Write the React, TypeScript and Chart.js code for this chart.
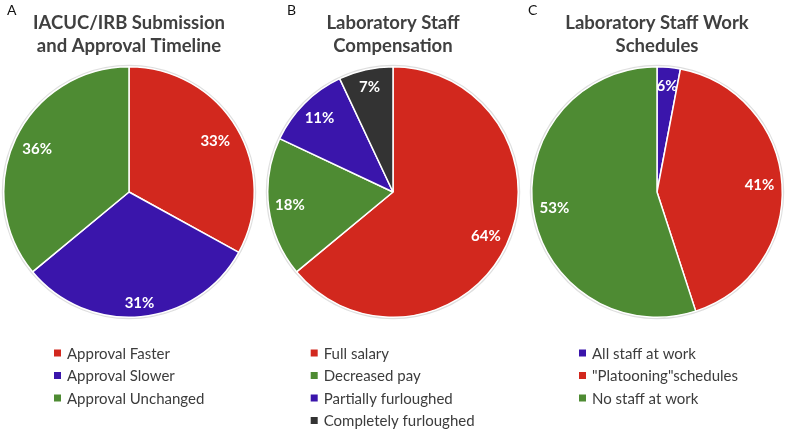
import React, { useEffect, useRef } from 'react';
import { Chart, registerables } from 'chart.js';
Chart.register(...registerables);

const RED = '#D2281E';
const PURPLE = '#3A15AB';
const GREEN = '#4E8B33';
const DARK = '#333333';

// Panel A
const titleA = ['IACUC/IRB Submission', 'and Approval Timeline'];
const categoriesA = ['Approval Faster', 'Approval Slower', 'Approval Unchanged'];
const valuesA = [33, 31, 36];
const pctLabelsA = ['33%', '31%', '36%'];
const colorsA = [RED, PURPLE, GREEN];

// Panel B
const titleB = ['Laboratory Staff', 'Compensation'];
const categoriesB = ['Full salary', 'Decreased pay', 'Partially furloughed', 'Completely furloughed'];
const valuesB = [64, 18, 11, 7];
const pctLabelsB = ['64%', '18%', '11%', '7%'];
const colorsB = [RED, GREEN, PURPLE, DARK];

// Panel C
const titleC = ['Laboratory Staff Work', 'Schedules'];
const categoriesC = ['All staff at work', '"Platooning"schedules', 'No staff at work'];
const valuesC = [3, 42, 55];
const pctLabelsC = ['6%', '41%', '53%'];
const colorsC = [PURPLE, RED, GREEN];

const FONT = 'Lato, "Open Sans", sans-serif';

type PanelProps = {
  left: number;
  letter: string;
  letterX: number;
  title: string[];
  categories: string[];
  values: number[];
  pctLabels: string[];
  colors: string[];
  pctRadius: number[];
  legendX: number;
};

function Panel(p: PanelProps) {
  const ref = useRef<HTMLCanvasElement | null>(null);
  useEffect(() => {
    const canvas = ref.current!;
    const decor = {
      id: 'decor',
      beforeDatasetsDraw(chart: any) {
        const arc = chart.getDatasetMeta(0).data[0];
        if (!arc) return;
        const ctx = chart.ctx;
        ctx.save();
        ctx.beginPath();
        ctx.arc(arc.x, arc.y, arc.outerRadius + 1, 0, Math.PI * 2);
        ctx.strokeStyle = 'rgba(0,0,0,0.13)';
        ctx.lineWidth = 2;
        ctx.stroke();
        ctx.restore();
      },
      afterDraw(chart: any) {
        const ctx = chart.ctx;
        const cx = (chart.chartArea.left + chart.chartArea.right) / 2;
        ctx.save();
        // panel letter
        ctx.fillStyle = '#111111';
        ctx.font = `14px ${FONT}`;
        ctx.textAlign = 'left';
        ctx.textBaseline = 'alphabetic';
        ctx.fillText(p.letter, p.letterX, 15);
        // title
        ctx.fillStyle = '#404040';
        ctx.font = `bold 18.5px ${FONT}`;
        ctx.textAlign = 'center';
        p.title.forEach((t, i) => ctx.fillText(t, cx, 29 + i * 23));
        // percentage labels
        const meta = chart.getDatasetMeta(0);
        ctx.fillStyle = '#FFFFFF';
        ctx.font = `bold 15px ${FONT}`;
        ctx.textBaseline = 'middle';
        meta.data.forEach((arc: any, i: number) => {
          const mid = (arc.startAngle + arc.endAngle) / 2;
          const r = arc.outerRadius * p.pctRadius[i];
          ctx.fillText(p.pctLabels[i], arc.x + Math.cos(mid) * r, arc.y + Math.sin(mid) * r);
        });
        // legend
        ctx.textAlign = 'left';
        ctx.font = `15px ${FONT}`;
        chart.data.labels.forEach((lab: string, i: number) => {
          const y = 353.5 + i * 22.5;
          ctx.fillStyle = p.colors[i];
          ctx.fillRect(p.legendX, y - 4, 7, 7);
          ctx.fillStyle = '#3C3C3C';
          ctx.fillText(lab, p.legendX + 13, y + 0.5);
        });
        ctx.restore();
      },
    };
    const chart = new Chart(canvas, {
      type: 'pie',
      data: {
        labels: p.categories,
        datasets: [
          {
            data: p.values,
            backgroundColor: p.colors,
            borderColor: '#FFFFFF',
            borderWidth: 1.5,
          },
        ],
      },
      options: {
        responsive: false,
        animation: false,
        layout: { padding: { left: 3, right: 9, top: 66, bottom: 113 } },
        plugins: {
          legend: { display: false },
          title: { display: false },
          tooltip: { enabled: false },
        },
      },
      plugins: [decor],
    });
    return () => chart.destroy();
  }, []);
  return (
    <canvas
      ref={ref}
      width={264}
      height={431}
      style={{ position: 'absolute', left: p.left, top: 0, width: 264, height: 431 }}
    />
  );
}

export default function App() {
  return (
    <div style={{ position: 'absolute', left: 0, top: 0, width: 790, height: 431, background: '#FFFFFF', overflow: 'hidden' }}>
      <Panel left={0} letter="A" letterX={7} title={titleA} categories={categoriesA} values={valuesA}
        pctLabels={pctLabelsA} colors={colorsA} pctRadius={[0.8, 0.89, 0.81]} legendX={54} />
      <Panel left={264} letter="B" letterX={23} title={titleB} categories={categoriesB} values={valuesB}
        pctLabels={pctLabelsB} colors={colorsB} pctRadius={[0.82, 0.83, 0.83, 0.86]} legendX={46.7} />
      <Panel left={528} letter="C" letterX={0} title={titleC} categories={categoriesC} values={valuesC}
        pctLabels={pctLabelsC} colors={colorsC} pctRadius={[0.85, 0.82, 0.83]} legendX={51} />
    </div>
  );
}
